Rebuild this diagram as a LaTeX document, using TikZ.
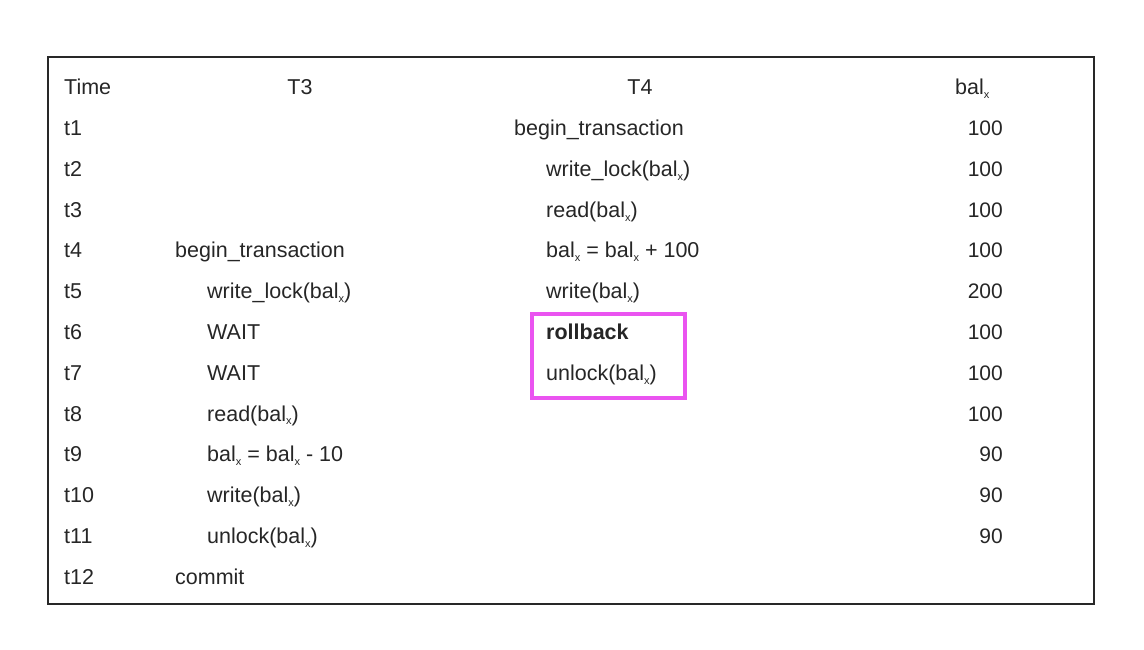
\documentclass[tikz,border=0pt]{standalone}
\usepackage{fontspec}
\setmainfont{Liberation Sans}
\definecolor{hl}{RGB}{234,84,240}
\definecolor{frame}{RGB}{40,40,40}
\newcommand{\balx}{bal\raisebox{-0.35ex}{\fontsize{11}{11}\selectfont x}}
\tikzset{
  cell/.style={anchor=base west, inner sep=0pt, font=\fontsize{21.5}{25}\selectfont, text=black!85},
  num/.style={anchor=base east, inner sep=0pt, font=\fontsize{21}{25}\selectfont, text=black!85},
  hdr/.style={anchor=base, inner sep=0pt, font=\fontsize{21.5}{25}\selectfont, text=black!85}
}
\begin{document}
\begin{tikzpicture}[x=1pt,y=-1pt]
\useasboundingbox (0,0) rectangle (1144,650);
\draw[frame, line width=2pt] (48,57) rectangle (1094,604);
\draw[hl, line width=3.5pt] (532,314) rectangle (685,398);
% header
\node[cell] (hTime) at (64,95) {Time};
\node[hdr] (hT3) at (300,95) {T3};
\node[hdr] (hT4) at (640,95) {T4};
\node[cell] (hbal) at (955,95) {\balx};
% time column
\foreach \i in {1,...,12}{
  \node[cell] (time\i) at (64,{95+40.75*\i}) {t\i};
}
% T3 column
\node[cell] (a4) at (175,{95+40.75*4}) {begin\_transaction};
\node[cell] (a5) at (207,{95+40.75*5}) {write\_lock(\balx)};
\node[cell] (a6) at (207,{95+40.75*6}) {WAIT};
\node[cell] (a7) at (207,{95+40.75*7}) {WAIT};
\node[cell] (a8) at (207,{95+40.75*8}) {read(\balx)};
\node[cell] (a9) at (207,{95+40.75*9}) {\balx{} = \balx{} - 10};
\node[cell] (a10) at (207,{95+40.75*10}) {write(\balx)};
\node[cell] (a11) at (207,{95+40.75*11}) {unlock(\balx)};
\node[cell] (a12) at (175,{95+40.75*12}) {commit};
% T4 column
\node[cell] (b1) at (514,{95+40.75*1}) {begin\_transaction};
\node[cell] (b2) at (546,{95+40.75*2}) {write\_lock(\balx)};
\node[cell] (b3) at (546,{95+40.75*3}) {read(\balx)};
\node[cell] (b4) at (546,{95+40.75*4}) {\balx{} = \balx{} + 100};
\node[cell] (b5) at (546,{95+40.75*5}) {write(\balx)};
\node[cell,font=\fontsize{21.5}{25}\selectfont\bfseries] (b6) at (546,{95+40.75*6}) {rollback};
\node[cell] (b7) at (546,{95+40.75*7}) {unlock(\balx)};
% bal column
\node[num] (c1) at (1003,{95+40.75*1}) {100};
\node[num] (c2) at (1003,{95+40.75*2}) {100};
\node[num] (c3) at (1003,{95+40.75*3}) {100};
\node[num] (c4) at (1003,{95+40.75*4}) {100};
\node[num] (c5) at (1003,{95+40.75*5}) {200};
\node[num] (c6) at (1003,{95+40.75*6}) {100};
\node[num] (c7) at (1003,{95+40.75*7}) {100};
\node[num] (c8) at (1003,{95+40.75*8}) {100};
\node[num] (c9) at (1003,{95+40.75*9}) {90};
\node[num] (c10) at (1003,{95+40.75*10}) {90};
\node[num] (c11) at (1003,{95+40.75*11}) {90};
\end{tikzpicture}
\end{document}
